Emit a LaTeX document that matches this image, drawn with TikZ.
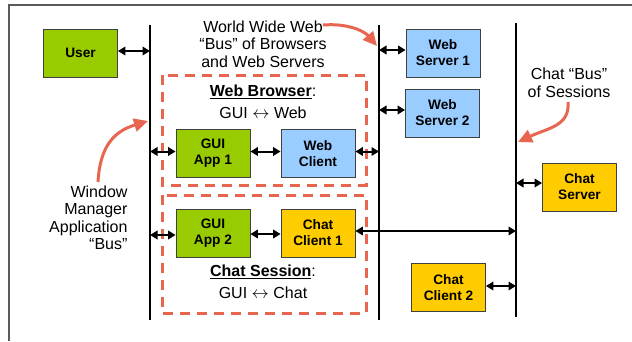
\documentclass[tikz,border=0pt]{standalone}
\usepackage{fontspec}
\setmainfont{Liberation Sans}
\usetikzlibrary{arrows.meta,calc}

\definecolor{appgreen}{HTML}{99CC00}
\definecolor{webblue}{HTML}{99CCFF}
\definecolor{chatyellow}{HTML}{FFCC00}
\definecolor{redline}{HTML}{E8664F}
\definecolor{framegray}{HTML}{5A5A5A}

\begin{document}
\begin{tikzpicture}[x=1pt, y=-1pt,
  every node/.style={font=\fontsize{16}{17.5}\selectfont},
  box/.style={draw=black!75, line width=0.8pt, minimum width=74pt, minimum height=48pt,
    inner sep=0pt, align=center, font=\fontsize{13.7}{16}\selectfont\bfseries},
  link/.style={line width=2pt, {Triangle[length=7.5pt,width=8.5pt]}-{Triangle[length=7.5pt,width=8.5pt]}},
  bus/.style={line width=2.2pt},
  group/.style={draw=redline, line width=3pt, dash pattern=on 10pt off 7pt},
  pointer/.style={draw=redline, line width=3pt, -{Triangle[length=14pt,width=13pt]}}]
\useasboundingbox (0,0) rectangle (632,341);
\draw[framegray, line width=1.8pt] (9,341) -- (9,5) -- (632,5);

% the three buses
\coordinate (wm) at (150,25);   \coordinate (wmb) at (150,320);
\coordinate (www) at (379,25);  \coordinate (wwwb) at (379,320);
\coordinate (chat) at (516,23); \coordinate (chatb) at (516,317);
\foreach \b in {wm,www,chat} \draw[bus] (\b) -- (\b b);

% groups
\draw[group] (162,75) rectangle (366,185);
\draw[group] (162,195) rectangle (366,313);

% boxes
\node[box, fill=appgreen] (user) at (80.5,53) {User};
\node[box, fill=webblue] (ws1) at (443,53) {Web\\Server 1};
\node[box, fill=webblue] (ws2) at (442.5,113) {Web\\Server 2};
\node[box, fill=appgreen] (gui1) at (213,153.5) {GUI\\App 1};
\node[box, fill=webblue] (wc) at (318,153.5) {Web\\Client};
\node[box, fill=appgreen] (gui2) at (213,233) {GUI\\App 2};
\node[box, fill=chatyellow] (cc1) at (318,233) {Chat\\Client 1};
\node[box, fill=chatyellow] (cs) at (579.5,187) {Chat\\Server};
\node[box, fill=chatyellow] (cc2) at (448.5,287.5) {Chat\\Client 2};

% links
\draw[link] ($(user.east)+(0,-2)$) -- ($(user.east -| wm)+(0,-2)$);
\draw[link] ($(ws1.west -| www)+(0,-3)$) -- ($(ws1.west)+(0,-3)$);
\draw[link] ($(ws2.west -| www)+(0,-3)$) -- ($(ws2.west)+(0,-3)$);
\draw[link] ($(gui1.west -| wm)+(0,-2)$) -- ($(gui1.west)+(0,-2)$);
\draw[link] ($(gui1.east)+(0,-2)$) -- ($(wc.west)+(0,-2)$);
\draw[link] ($(wc.east)+(0,-2)$) -- ($(wc.east -| www)+(0,-2)$);
\draw[link] ($(gui2.west -| wm)+(0,2)$) -- ($(gui2.west)+(0,2)$);
\draw[link] ($(gui2.east)+(0,1)$) -- ($(cc1.west)+(0,1)$);
\draw[link] ($(cc1.east)+(0,-2)$) -- ($(cc1.east -| chat)+(0,-2)$);
\draw[link] ($(cs.west -| chat)+(0,-4)$) -- ($(cs.west)+(0,-4)$);
\draw[link] ($(cc2.east)+(0,-1.5)$) -- ($(cc2.east -| chat)+(0,-1.5)$);

% labels
\node (wbtitle) at (263,92) {\underline{\textbf{Web Browser}}:};
\node (wbsub) at (263,113) {GUI $\leftrightarrow$ Web};
\node (cstitle) at (263,272) {\underline{\textbf{Chat Session}}:};
\node (cssub) at (263,293) {GUI $\leftrightarrow$ Chat};
\node[align=center] (wwwlabel) at (263,44) {World Wide Web\\“Bus” of Browsers\\and Web Servers};
\node[align=center] (chatlabel) at (569,83) {Chat “Bus”\\of Sessions};
\node[align=right, anchor=east] (wmlabel) at (131,218) {Window\\Manager\\Application\\“Bus”};

% pointers to the buses
\coordinate (wwwhit) at (377,46);
\coordinate (chathit) at (518,142);
\coordinate (wmhit) at (148,121);
\draw[pointer] (323,25) .. controls (350,23) and (365,32) .. (wwwhit);
\draw[pointer] (568,102) .. controls (570,126) and (548,128) .. (chathit);
\draw[pointer] (98,182) .. controls (100,145) and (115,131) .. (wmhit);
\end{tikzpicture}
\end{document}
